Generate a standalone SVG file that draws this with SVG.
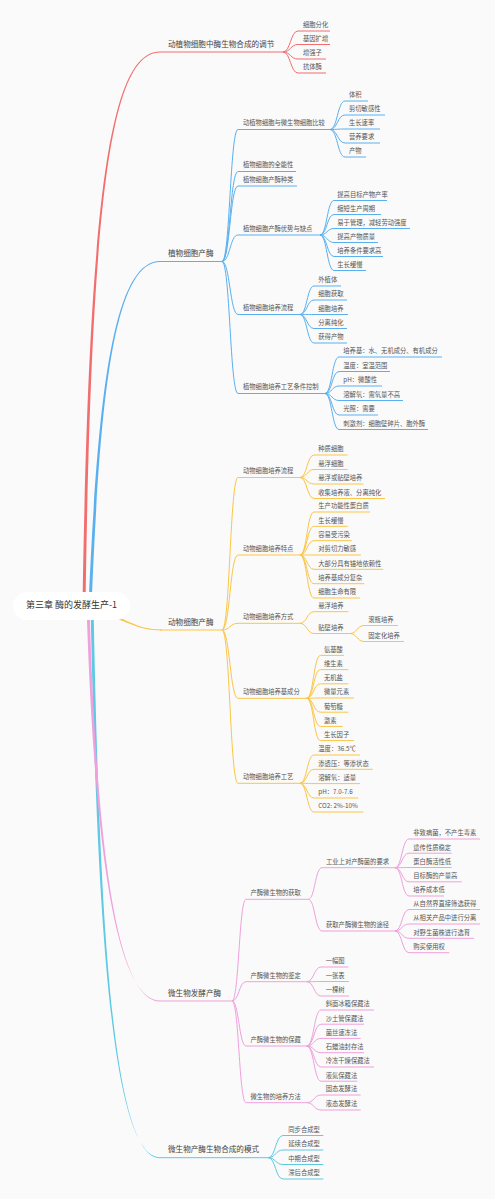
<svg xmlns="http://www.w3.org/2000/svg" width="495" height="1199" viewBox="0 0 495 1199">
<style>
text{font-family:"Noto Sans CJK SC","Noto Sans",sans-serif;fill:#555}
.t1{font-size:7.6px;fill:#444}
.t2{font-size:6.3px}
.t3{font-size:6.3px}
.root{font-size:9px;fill:#333}
#connectors path{fill:none;stroke-width:1}
#connectors path.f{stroke:none}
#connectors .r{stroke:#f26d6d}
#connectors .b{stroke:#5ab0ef}
#connectors .o{stroke:#fbc545}
#connectors .p{stroke:#f0a0dc}
#connectors .c{stroke:#5ec9e3}
#connectors path.fr{fill:#f26d6d;stroke:none}
#connectors path.fb{fill:#5ab0ef;stroke:none}
#connectors path.fo{fill:#fbc545;stroke:none}
#connectors path.fp{fill:#f0a0dc;stroke:none}
#connectors path.fc{fill:#5ec9e3;stroke:none}
</style>
<rect width="495" height="1199" fill="#fafafa"/>
<g id="connectors">
<!-- root branches (tapered) -->
<path class="fc" d="M90.5 606C96.8 900 109.5 1157.2 160 1157.2L160 1158.2C110.5 1158.2 99.2 900 93.5 606Z"/>
<path class="fp" d="M86.5 606C92.8 800 109.5 1000.5 160 1000.5L160 1001.5C110.5 1001.5 95.2 800 89.5 606Z"/>
<path class="fr" d="M82.5 606C88.8 200 109.5 51.5 160 51.5L160 52.5C110.5 52.5 91.2 200 85.5 606Z"/>
<path class="fb" d="M88.5 606C96.8 420 109.5 261 160 261L160 262C110.5 262 99.2 420 91.5 606Z"/>
<path class="fo" d="M100 610.5C125 617 135 629.5 162 629.5L162 630.5C135 630.5 125 619 100 613.5Z"/>
<!-- red -->
<path class="r" d="M160 52H283"/>
<path class="r" d="M283 52C290.5 52 290.5 31 298 31H330"/>
<path class="r" d="M283 52C290.5 52 290.5 44.5 298 44.5H330"/>
<path class="r" d="M283 52C290.5 52 290.5 59 298 59H326"/>
<path class="r" d="M283 52C290.5 52 290.5 73 298 73H326"/>
<!-- blue -->
<path class="b" d="M160 261.5H222"/>
<path class="b" d="M222 261.5C230 261.5 230 129.5 238 129.5H330"/>
<path class="b" d="M222 261.5C230 261.5 230 171.5 238 171.5H296"/>
<path class="b" d="M222 261.5C230 261.5 230 186 238 186H297"/>
<path class="b" d="M222 261.5C230 261.5 230 235 238 235H320"/>
<path class="b" d="M222 261.5C230 261.5 230 314.5 238 314.5H300"/>
<path class="b" d="M222 261.5C230 261.5 230 393.5 238 393.5H325"/>
<path class="b" d="M330 129.5C337.5 129.5 337.5 101 345 101H368"/>
<path class="b" d="M330 129.5C337.5 129.5 337.5 115 345 115H385"/>
<path class="b" d="M330 129.5C337.5 129.5 337.5 129 345 129H380"/>
<path class="b" d="M330 129.5C337.5 129.5 337.5 143 345 143H380"/>
<path class="b" d="M330 129.5C337.5 129.5 337.5 157 345 157H366"/>
<path class="b" d="M320 235C327 235 327 200.5 334 200.5H387"/>
<path class="b" d="M320 235C327 235 327 214.5 334 214.5H381"/>
<path class="b" d="M320 235C327 235 327 228.5 334 228.5H410"/>
<path class="b" d="M320 235C327 235 327 242.5 334 242.5H378"/>
<path class="b" d="M320 235C327 235 327 256.5 334 256.5H383"/>
<path class="b" d="M320 235C327 235 327 270.5 334 270.5H366"/>
<path class="b" d="M300 314.5C307 314.5 307 286 314 286H341"/>
<path class="b" d="M300 314.5C307 314.5 307 300 314 300H347"/>
<path class="b" d="M300 314.5C307 314.5 307 314.5 314 314.5H348"/>
<path class="b" d="M300 314.5C307 314.5 307 328.5 314 328.5H347"/>
<path class="b" d="M300 314.5C307 314.5 307 343 314 343H347"/>
<path class="b" d="M325 393.5C332 393.5 332 357 339 357H442"/>
<path class="b" d="M325 393.5C332 393.5 332 371.5 339 371.5H390"/>
<path class="b" d="M325 393.5C332 393.5 332 386 339 386H382"/>
<path class="b" d="M325 393.5C332 393.5 332 400.5 339 400.5H403"/>
<path class="b" d="M325 393.5C332 393.5 332 415 339 415H378"/>
<path class="b" d="M325 393.5C332 393.5 332 429.5 339 429.5H428"/>
<!-- orange -->
<path class="o" d="M160 630H222"/>
<path class="o" d="M222 630C230 630 230 477.5 238 477.5H300"/>
<path class="o" d="M222 630C230 630 230 555 238 555H300"/>
<path class="o" d="M222 630C230 630 230 623.3 238 623.3H300"/>
<path class="o" d="M222 630C230 630 230 698.3 238 698.3H306.7"/>
<path class="o" d="M222 630C230 630 230 783.3 238 783.3H300"/>
<path class="o" d="M300 477.5C307 477.5 307 455 314 455H347.7"/>
<path class="o" d="M300 477.5C307 477.5 307 469.5 314 469.5H347.7"/>
<path class="o" d="M300 477.5C307 477.5 307 484 314 484H363.3"/>
<path class="o" d="M300 477.5C307 477.5 307 498.5 314 498.5H385"/>
<path class="o" d="M300 555C307 555 307 512 314 512H370"/>
<path class="o" d="M300 555C307 555 307 526.3 314 526.3H347.7"/>
<path class="o" d="M300 555C307 555 307 540.7 314 540.7H351.7"/>
<path class="o" d="M300 555C307 555 307 555 314 555H361"/>
<path class="o" d="M300 555C307 555 307 569.3 314 569.3H383.3"/>
<path class="o" d="M300 555C307 555 307 583.7 314 583.7H364.3"/>
<path class="o" d="M300 555C307 555 307 598 314 598H360"/>
<path class="o" d="M300 623.3C307 623.3 307 611.7 314 611.7H348.3"/>
<path class="o" d="M300 623.3C307 623.3 307 633.5 314 633.5H350"/>
<path class="o" d="M350 633.5C357 633.5 357 625.5 364 625.5H398"/>
<path class="o" d="M350 633.5C357 633.5 357 641.5 364 641.5H404"/>
<path class="o" d="M306.7 698.3C313.6 698.3 313.6 655.4 320.5 655.4H344"/>
<path class="o" d="M306.7 698.3C313.6 698.3 313.6 669.6 320.5 669.6H348.3"/>
<path class="o" d="M306.7 698.3C313.6 698.3 313.6 683.8 320.5 683.8H348.3"/>
<path class="o" d="M306.7 698.3C313.6 698.3 313.6 698 320.5 698H354"/>
<path class="o" d="M306.7 698.3C313.6 698.3 313.6 712.2 320.5 712.2H348.3"/>
<path class="o" d="M306.7 698.3C313.6 698.3 313.6 726.4 320.5 726.4H342.7"/>
<path class="o" d="M306.7 698.3C313.6 698.3 313.6 740.6 320.5 740.6H354"/>
<path class="o" d="M300 783.3C307 783.3 307 755 314 755H360"/>
<path class="o" d="M300 783.3C307 783.3 307 769.3 314 769.3H372.7"/>
<path class="o" d="M300 783.3C307 783.3 307 783.6 314 783.6H360"/>
<path class="o" d="M300 783.3C307 783.3 307 798 314 798H358.3"/>
<path class="o" d="M300 783.3C307 783.3 307 812 314 812H363.3"/>
<!-- pink -->
<path class="p" d="M160 1001H232"/>
<path class="p" d="M232 1001C239 1001 239 899.3 246 899.3H308.3"/>
<path class="p" d="M232 1001C239 1001 239 981.7 246 981.7H306.7"/>
<path class="p" d="M232 1001C239 1001 239 1046 246 1046H306.7"/>
<path class="p" d="M232 1001C239 1001 239 1102.7 246 1102.7H306.7"/>
<path class="p" d="M308.3 899.3C315 899.3 315 867.7 322 867.7H395"/>
<path class="p" d="M308.3 899.3C315 899.3 315 931 322 931H395"/>
<path class="p" d="M395 867.7C402 867.7 402 839 409 839H480"/>
<path class="p" d="M395 867.7C402 867.7 402 853.2 409 853.2H451.7"/>
<path class="p" d="M395 867.7C402 867.7 402 867.5 409 867.5H451.7"/>
<path class="p" d="M395 867.7C402 867.7 402 881.8 409 881.8H461.7"/>
<path class="p" d="M395 867.7C402 867.7 402 896 409 896H444"/>
<path class="p" d="M395 931C402 931 402 909.5 409 909.5H480"/>
<path class="p" d="M395 931C402 931 402 924 409 924H480"/>
<path class="p" d="M395 931C402 931 402 938.3 409 938.3H474"/>
<path class="p" d="M395 931C402 931 402 952.7 409 952.7H449.3"/>
<path class="p" d="M306.7 981.7C314 981.7 314 967 321 967H348.3"/>
<path class="p" d="M306.7 981.7C314 981.7 314 981.5 321 981.5H349"/>
<path class="p" d="M306.7 981.7C314 981.7 314 996 321 996H349"/>
<path class="p" d="M306.7 1046C314 1046 314 1010 321 1010H374"/>
<path class="p" d="M306.7 1046C314 1046 314 1024.2 321 1024.2H364"/>
<path class="p" d="M306.7 1046C314 1046 314 1038.4 321 1038.4H360.7"/>
<path class="p" d="M306.7 1046C314 1046 314 1052.7 321 1052.7H364"/>
<path class="p" d="M306.7 1046C314 1046 314 1067 321 1067H374"/>
<path class="p" d="M306.7 1046C314 1046 314 1081.2 321 1081.2H357.3"/>
<path class="p" d="M306.7 1102.7C314 1102.7 314 1095 321 1095H360.7"/>
<path class="p" d="M306.7 1102.7C314 1102.7 314 1110 321 1110H360.7"/>
<!-- cyan -->
<path class="c" d="M160 1157.7H268.3"/>
<path class="c" d="M268.3 1157.7C275.5 1157.7 275.5 1135.5 283 1135.5H323.3"/>
<path class="c" d="M268.3 1157.7C275.5 1157.7 275.5 1150 283 1150H323.3"/>
<path class="c" d="M268.3 1157.7C275.5 1157.7 275.5 1164.5 283 1164.5H323.3"/>
<path class="c" d="M268.3 1157.7C275.5 1157.7 275.5 1179 283 1179H323.3"/>
</g>

<g id="root">
<rect x="13" y="592" width="117" height="28" rx="14" fill="#ffffff"/>
<text class="root" x="71.5" y="608" text-anchor="middle">第三章 酶的发酵生产-1</text>
</g>

<g id="n-regulation">
<text class="t1" x="168" y="46.6">动植物细胞中酶生物合成的调节</text>
<text class="t3" x="303" y="27.4">细胞分化</text>
<text class="t3" x="303" y="40.9">基因扩增</text>
<text class="t3" x="303" y="55.4">增强子</text>
<text class="t3" x="303" y="69.4">抗体酶</text>
</g>

<g id="n-plant">
<text class="t1" x="168" y="256.1">植物细胞产酶</text>
<text class="t2" x="243" y="125.4">动植物细胞与微生物细胞比较</text>
<text class="t3" x="349" y="97.4">体积</text>
<text class="t3" x="349" y="111.4">剪切敏感性</text>
<text class="t3" x="349" y="125.4">生长速率</text>
<text class="t3" x="349" y="139.4">营养要求</text>
<text class="t3" x="349" y="153.4">产物</text>
<text class="t2" x="243" y="167.4">植物细胞的全能性</text>
<text class="t2" x="243" y="181.9">植物细胞产酶种类</text>
<text class="t2" x="243" y="230.9">植物细胞产酶优势与缺点</text>
<text class="t3" x="337.3" y="196.9">提高目标产物产率</text>
<text class="t3" x="337.3" y="210.9">缩短生产周期</text>
<text class="t3" x="337.3" y="224.9">易于管理，减轻劳动强度</text>
<text class="t3" x="337.3" y="238.9">提高产物质量</text>
<text class="t3" x="337.3" y="252.9">培养条件要求高</text>
<text class="t3" x="337.3" y="266.9">生长缓慢</text>
<text class="t2" x="243" y="310.4">植物细胞培养流程</text>
<text class="t3" x="318.3" y="282.4">外植体</text>
<text class="t3" x="318.3" y="296.4">细胞获取</text>
<text class="t3" x="318.3" y="310.9">细胞培养</text>
<text class="t3" x="318.3" y="324.9">分离纯化</text>
<text class="t3" x="318.3" y="339.4">获得产物</text>
<text class="t2" x="243" y="389.4">植物细胞培养工艺条件控制</text>
<text class="t3" x="343.3" y="353.4">培养基：水、无机成分、有机成分</text>
<text class="t3" x="343.3" y="367.9">温度：室温范围</text>
<text class="t3" x="343.3" y="382.4">pH：微酸性</text>
<text class="t3" x="343.3" y="396.9">溶解氧：需氧量不高</text>
<text class="t3" x="343.3" y="411.4">光照：需要</text>
<text class="t3" x="343.3" y="425.9">刺激剂：细胞壁碎片、胞外酶</text>
</g>

<g id="n-animal">
<text class="t1" x="168" y="624.6">动物细胞产酶</text>
<text class="t2" x="243" y="473.4">动物细胞培养流程</text>
<text class="t3" x="318.3" y="451.4">种质细胞</text>
<text class="t3" x="318.3" y="465.9">悬浮细胞</text>
<text class="t3" x="318.3" y="480.4">悬浮或贴壁培养</text>
<text class="t3" x="318.3" y="494.9">收集培养液、分离纯化</text>
<text class="t2" x="243" y="550.9">动物细胞培养特点</text>
<text class="t3" x="318.3" y="508.4">生产功能性蛋白质</text>
<text class="t3" x="318.3" y="522.7">生长缓慢</text>
<text class="t3" x="318.3" y="537.1">容易受污染</text>
<text class="t3" x="318.3" y="551.4">对剪切力敏感</text>
<text class="t3" x="318.3" y="565.7">大部分具有锚地依赖性</text>
<text class="t3" x="318.3" y="580.1">培养基成分复杂</text>
<text class="t3" x="318.3" y="594.4">细胞生命有限</text>
<text class="t2" x="243" y="619.2">动物细胞培养方式</text>
<text class="t3" x="318.3" y="608.1">悬浮培养</text>
<text class="t3" x="318.3" y="629.9">贴壁培养</text>
<text class="t3" x="368.3" y="621.9">滚瓶培养</text>
<text class="t3" x="368.3" y="637.9">固定化培养</text>
<text class="t2" x="243" y="694.2">动物细胞培养基成分</text>
<text class="t3" x="324" y="651.8">氨基酸</text>
<text class="t3" x="324" y="666">维生素</text>
<text class="t3" x="324" y="680.2">无机盐</text>
<text class="t3" x="324" y="694.4">微量元素</text>
<text class="t3" x="324" y="708.6">葡萄糖</text>
<text class="t3" x="324" y="722.8">激素</text>
<text class="t3" x="324" y="737">生长因子</text>
<text class="t2" x="243" y="779.2">动物细胞培养工艺</text>
<text class="t3" x="318.3" y="751.4">温度：36.5℃</text>
<text class="t3" x="318.3" y="765.7">渗透压：等渗状态</text>
<text class="t3" x="318.3" y="780">溶解氧：适量</text>
<text class="t3" x="318.3" y="794.4">pH：7.0-7.6</text>
<text class="t3" x="318.3" y="808.4">CO2: 2%-10%</text>
</g>

<g id="n-microbe">
<text class="t1" x="168" y="995.6">微生物发酵产酶</text>
<text class="t2" x="250.5" y="895.2">产酶微生物的获取</text>
<text class="t2" x="326" y="863.6">工业上对产酶菌的要求</text>
<text class="t3" x="413.3" y="835.4">非致病菌，不产生毒素</text>
<text class="t3" x="413.3" y="849.6">遗传性质稳定</text>
<text class="t3" x="413.3" y="863.9">蛋白酶活性低</text>
<text class="t3" x="413.3" y="878.2">目标酶的产量高</text>
<text class="t3" x="413.3" y="892.4">培养成本低</text>
<text class="t2" x="326" y="926.9">获取产酶微生物的途径</text>
<text class="t3" x="413.3" y="905.9">从自然界直接筛选获得</text>
<text class="t3" x="413.3" y="920.4">从相关产品中进行分离</text>
<text class="t3" x="413.3" y="934.7">对野生菌株进行选育</text>
<text class="t3" x="413.3" y="949.1">购买使用权</text>
<text class="t2" x="250.5" y="977.6">产酶微生物的鉴定</text>
<text class="t3" x="325.7" y="963.4">一幅图</text>
<text class="t3" x="325.7" y="977.9">一张表</text>
<text class="t3" x="325.7" y="992.4">一棵树</text>
<text class="t2" x="250.5" y="1041.9">产酶微生物的保藏</text>
<text class="t3" x="325.7" y="1006.4">斜面冰箱保藏法</text>
<text class="t3" x="325.7" y="1020.6">沙土管保藏法</text>
<text class="t3" x="325.7" y="1034.8">菌丝速冻法</text>
<text class="t3" x="325.7" y="1049.1">石蜡油封存法</text>
<text class="t3" x="325.7" y="1063.4">冷冻干燥保藏法</text>
<text class="t3" x="325.7" y="1077.6">液氮保藏法</text>
<text class="t2" x="250.5" y="1098.6">微生物的培养方法</text>
<text class="t3" x="325.7" y="1091.4">固态发酵法</text>
<text class="t3" x="325.7" y="1106.4">液态发酵法</text>
</g>

<g id="n-mode">
<text class="t1" x="168" y="1152.3">微生物产酶生物合成的模式</text>
<text class="t3" x="288.3" y="1131.9">同步合成型</text>
<text class="t3" x="288.3" y="1146.4">延续合成型</text>
<text class="t3" x="288.3" y="1160.9">中期合成型</text>
<text class="t3" x="288.3" y="1175.4">滞后合成型</text>
</g>
</svg>
